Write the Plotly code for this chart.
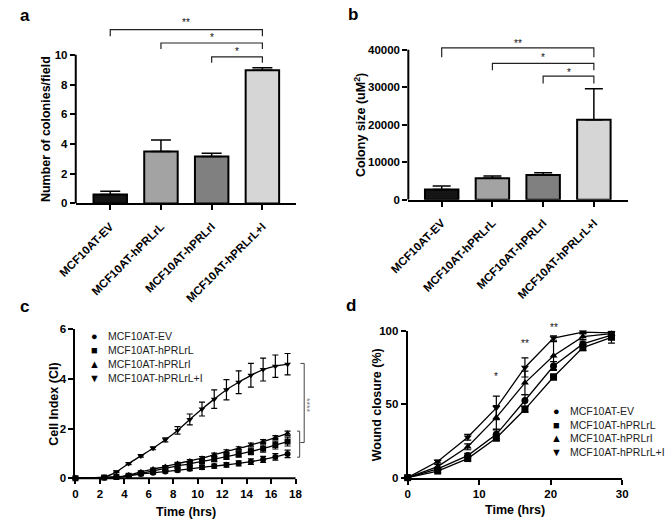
import plotly.graph_objects as go

# ---- data ----
groups = ["MCF10AT-EV", "MCF10AT-hPRLrL", "MCF10AT-hPRLrI", "MCF10AT-hPRLrL+I"]

colonies = [0.6, 3.5, 3.15, 8.97]
colonies_sem = [0.22, 0.77, 0.22, 0.16]
colonies_sig = [(0, 3, "**"), (1, 3, "*"), (2, 3, "*")]

colony_size = [2750, 5750, 6600, 21300]
colony_size_sem = [950, 600, 600, 8300]
colony_size_sig = [(0, 3, "**"), (1, 3, "*"), (2, 3, "*")]

ci_time = [0, 2.35, 3.35, 4.35, 5.35, 6.35, 7.35, 8.35, 9.35,
           10.35, 11.35, 12.35, 13.35, 14.35, 15.35, 16.35, 17.35]
ci_ev = [0, 0.02, 0.05, 0.1, 0.17, 0.22, 0.27, 0.32, 0.38,
         0.44, 0.49, 0.54, 0.6, 0.67, 0.76, 0.86, 0.98]
ci_ev_sd = [0, 0.01, 0.02, 0.03, 0.04, 0.05, 0.05, 0.06, 0.07,
            0.08, 0.08, 0.09, 0.1, 0.11, 0.12, 0.13, 0.15]
ci_rl = [0, 0.03, 0.05, 0.1, 0.2, 0.3, 0.4, 0.5, 0.58,
         0.68, 0.77, 0.87, 0.97, 1.08, 1.2, 1.34, 1.48]
ci_rl_sd = [0, 0.01, 0.02, 0.03, 0.04, 0.05, 0.06, 0.07, 0.08,
            0.09, 0.1, 0.11, 0.12, 0.13, 0.15, 0.16, 0.18]
ci_ri = [0, 0.03, 0.05, 0.13, 0.26, 0.37, 0.47, 0.59, 0.7,
         0.81, 0.95, 1.08, 1.2, 1.34, 1.48, 1.64, 1.81]
ci_ri_sd = [0, 0.01, 0.02, 0.03, 0.03, 0.04, 0.04, 0.05, 0.05,
            0.06, 0.06, 0.07, 0.07, 0.08, 0.08, 0.08, 0.09]
ci_rli = [0, 0.05, 0.26, 0.59, 0.9, 1.21, 1.55, 1.93, 2.37,
          2.79, 3.19, 3.57, 3.87, 4.15, 4.38, 4.52, 4.6]
ci_rli_sd = [0, 0.02, 0.03, 0.04, 0.05, 0.06, 0.08, 0.15, 0.22,
             0.28, 0.37, 0.41, 0.46, 0.48, 0.46, 0.45, 0.43]

wound_time = [0, 4.2, 8.4, 12.4, 16.4, 20.4, 24.5, 28.5]
wound_ev = [0, 6, 15, 29.5, 52.5, 76, 91, 97]
wound_ev_sd = [0, 1, 1.5, 3, 4, 3, 2, 2]
wound_rl = [0, 4.5, 13, 27, 46.5, 68.5, 88.5, 95.5]
wound_rl_sd = [0, 1, 1.5, 2, 2, 2, 2, 4]
wound_ri = [0, 7.5, 21, 41, 64.5, 83, 96, 98]
wound_ri_sd = [0, 1.5, 2, 8, 8, 9.5, 2, 1]
wound_rli = [0, 11, 27.5, 47.5, 75, 95, 99, 98.5]
wound_rli_sd = [0, 1, 2, 8, 6.5, 1.5, 1, 1]
wound_sig = [(12.4, "*"), (16.4, "**"), (20.4, "**")]

# ---- styling ----
W, H = 670, 525
FONT = "Liberation Sans, Arial, sans-serif"
bar_colors = ["#151515", "#a3a3a3", "#808080", "#d6d6d6"]
symbols = ["circle", "square", "triangle-up", "triangle-down"]
glyphs = ["\u25cf", "\u25a0", "\u25b2", "\u25bc"]


def fx(p):
    return p / W


def fy(p):
    return 1 - p / H


# panel d plot area (px), reused to place the stars that sit above 100 %
D_BOTTOM, D_TOP = 482.7, 332.3

fig = go.Figure()

# a / b: bar charts
for vals, sem, ax, cap in [
    (colonies, colonies_sem, ("x", "y"), 10),
    (colony_size, colony_size_sem, ("x2", "y2"), 9),
]:
    fig.add_bar(
        x=list(range(len(groups))),
        y=vals,
        width=0.66,
        marker={"color": bar_colors, "line": {"color": "black", "width": 2}},
        error_y={
            "type": "data",
            "array": sem,
            "arrayminus": [0] * len(sem),
            "symmetric": False,
            "color": "black",
            "thickness": 1.5,
            "width": cap,
        },
        xaxis=ax[0],
        yaxis=ax[1],
        showlegend=False,
    )

# c: cell index curves
ci_series = [(ci_ev, ci_ev_sd), (ci_rl, ci_rl_sd), (ci_ri, ci_ri_sd), (ci_rli, ci_rli_sd)]
for name, sym, (vals, sd) in zip(groups, symbols, ci_series):
    fig.add_scatter(
        x=ci_time,
        y=vals,
        name=name,
        mode="lines+markers",
        line={"color": "black", "width": 1.3, "shape": "spline", "smoothing": 0.6},
        marker={"symbol": sym, "size": 6, "color": "black"},
        error_y={"type": "data", "array": sd, "color": "black", "thickness": 1.2, "width": 3},
        cliponaxis=False,
        xaxis="x3",
        yaxis="y3",
        showlegend=False,
    )

# d: wound closure
wound_series = [(wound_ev, wound_ev_sd), (wound_rl, wound_rl_sd),
                (wound_ri, wound_ri_sd), (wound_rli, wound_rli_sd)]
for name, sym, (vals, sd) in zip(groups, symbols, wound_series):
    fig.add_scatter(
        x=wound_time,
        y=vals,
        name=name,
        mode="lines+markers",
        line={"color": "black", "width": 1.3},
        marker={"symbol": sym, "size": 7, "color": "black"},
        error_y={"type": "data", "array": sd, "color": "black", "thickness": 1.2, "width": 3.5},
        cliponaxis=False,
        xaxis="x4",
        yaxis="y4",
        showlegend=False,
    )

shapes = []
annotations = []

# significance brackets on the bar panels
for sig, levels, xr, yr in [
    (colonies_sig, [(11.7, 0.45, 12.3), (10.8, 0.4, 11.27), (9.87, 0.4, 10.37)], "x", "y"),
    (colony_size_sig, [(40500, 2500, 42270), (36350, 1850, 38360), (32950, 1950, 34530)], "x2", "y2"),
]:
    for (i, j, label), (top, drop, ty) in zip(sig, levels):
        shapes.append({
            "type": "path",
            "xref": xr,
            "yref": yr,
            "path": f"M {i},{top - drop} L {i},{top} L {j},{top} L {j},{top - drop}",
            "line": {"color": "#222", "width": 1.2},
        })
        annotations.append({
            "x": (i + j) / 2, "y": ty, "xref": xr, "yref": yr, "text": label,
            "showarrow": False, "yshift": -2,
            "font": {"size": 10, "color": "#111", "family": FONT},
        })

# y axis lines of the bar panels stop at the top tick
shapes.append({"type": "line", "xref": "x domain", "yref": "y", "x0": 0, "x1": 0,
               "y0": 0, "y1": 10, "line": {"color": "black", "width": 2}})
shapes.append({"type": "line", "xref": "x2 domain", "yref": "y2", "x0": 0, "x1": 0,
               "y0": 0, "y1": 40000, "line": {"color": "black", "width": 2}})
# x axis line of c stops at 18
shapes.append({"type": "line", "xref": "x3", "yref": "y3 domain", "x0": 0, "x1": 18,
               "y0": 0, "y1": 0, "line": {"color": "black", "width": 2}})

# c: brackets at the right
shapes.append({"type": "path", "xref": "x3", "yref": "y3",
               "path": "M 18.13,0.85 L 18.34,0.85 L 18.34,1.9 L 18.13,1.9",
               "line": {"color": "#444", "width": 1}})
shapes.append({"type": "path", "xref": "x3", "yref": "y3",
               "path": "M 18.4,4.63 L 18.71,4.63 L 18.71,1.44 L 18.4,1.44",
               "line": {"color": "#444", "width": 1}})
annotations.append({"x": 18.95, "y": 2.95, "xref": "x3", "yref": "y3", "text": "****",
                    "textangle": 90, "showarrow": False,
                    "font": {"size": 9, "color": "#777", "family": FONT}})

# d: stars above time points (the last one sits above the 100 % top,
# so they are placed in paper units through the panel's own scale)
for (t, label), y in zip(wound_sig, [65, 87.7, 103.7]):
    annotations.append({"x": t, "y": fy(D_BOTTOM - y / 100 * (D_BOTTOM - D_TOP)),
                        "xref": "x4", "yref": "paper", "text": label,
                        "showarrow": False, "yshift": -2,
                        "font": {"size": 10, "color": "#111", "family": FONT}})

# legends of c and d
for xr, yr, gx, tx, y0, dy in [("x3", "y3", 1.57, 2.46, 5.73, -0.56),
                               ("x4", "y4", 20.75, 22.4, 45.5, -9.4)]:
    for k, (g, name) in enumerate(zip(glyphs, groups)):
        annotations.append({"x": gx, "y": y0 + k * dy, "xref": xr, "yref": yr, "text": g,
                            "showarrow": False, "xanchor": "center",
                            "font": {"size": 11, "color": "black", "family": FONT}})
        annotations.append({"x": tx, "y": y0 + k * dy, "xref": xr, "yref": yr, "text": name,
                            "showarrow": False, "xanchor": "left",
                            "font": {"size": 10.5, "color": "#222", "family": FONT}})

# axis titles
title_font = {"size": 12.5, "color": "black", "family": FONT, "weight": "bold"}
for text, px, py, angle in [
    ("Number of colonies/field", 27, 126, -90),
    ("Colony size (uM<sup>2</sup>)", 353, 121.5, -90),
    ("Cell Index (CI)", 36, 407.5, -90),
    ("Time (hrs)", 172.5, 518, 0),
    ("Wound closure (%)", 371, 408, -90),
    ("Time (hrs)", 515, 515.5, 0),
]:
    annotations.append({"x": fx(px), "y": fy(py), "xref": "paper", "yref": "paper",
                        "text": text, "textangle": angle, "showarrow": False,
                        "xanchor": "center", "yanchor": "middle", "font": title_font})

# panel letters
for letter, px, py in [("a", 5, 10), ("b", 346, 9), ("c", 5, 308), ("d", 344, 307)]:
    annotations.append({"x": fx(px), "y": fy(py), "xref": "paper", "yref": "paper",
                        "text": letter, "showarrow": False,
                        "xanchor": "center", "yanchor": "middle",
                        "font": {"size": 17, "color": "black", "family": FONT, "weight": "bold"}})

axis = {
    "showline": True, "linecolor": "black", "linewidth": 2,
    "ticks": "outside", "ticklen": 5, "tickwidth": 1.5, "tickcolor": "black",
    "showgrid": False, "zeroline": False,
    "tickfont": {"family": FONT, "size": 11.5, "color": "black", "weight": "bold"},
}
cat_axis = {"tickvals": [0, 1, 2, 3], "ticktext": groups, "tickangle": -45,
            "ticklen": 5, "ticklabelstandoff": 5}

fig.update_layout(
    width=W,
    height=H,
    margin={"l": 0, "r": 0, "t": 0, "b": 0},
    paper_bgcolor="white",
    plot_bgcolor="white",
    font={"family": FONT},
    xaxis={**axis, **cat_axis, "domain": [fx(58), fx(287)], "range": [-0.68, 3.66],
           "anchor": "y"},
    yaxis={**axis, "showline": False, "domain": [fy(202), fy(202 - 12.8 * 15.2)],
           "range": [0, 12.8], "anchor": "x", "tickvals": [0, 2, 4, 6, 8, 10]},
    xaxis2={**axis, **cat_axis, "domain": [fx(404), fx(632.7)], "range": [-0.658, 3.676],
            "anchor": "y2"},
    yaxis2={**axis, "showline": False, "domain": [fy(198.3), fy(198.3 - 44000 * 0.00384)],
            "range": [0, 44000], "anchor": "x2",
            "tickvals": [0, 10000, 20000, 30000, 40000], "tickformat": "d"},
    xaxis3={**axis, "showline": False, "domain": [fx(57.7), fx(301.9)], "range": [0, 19.2],
            "anchor": "y3", "tickvals": list(range(0, 19, 2))},
    yaxis3={**axis, "domain": [fy(483.3), fy(331)], "range": [0, 6], "anchor": "x3",
            "tickvals": [0, 2, 4, 6]},
    xaxis4={**axis, "domain": [fx(403.3), fx(626.5)], "range": [0, 30], "anchor": "y4",
            "tickvals": [0, 10, 20, 30]},
    yaxis4={**axis, "domain": [fy(D_BOTTOM), fy(D_TOP)], "range": [0, 100], "anchor": "x4",
            "tickvals": [0, 50, 100]},
    shapes=shapes,
    annotations=annotations,
)

# the page's default body margin would push the 670 px figure off the window
fig.write_html(
    "out.html",
    config={"displayModeBar": False},
    post_script="document.body.style.margin = '0';",
)
